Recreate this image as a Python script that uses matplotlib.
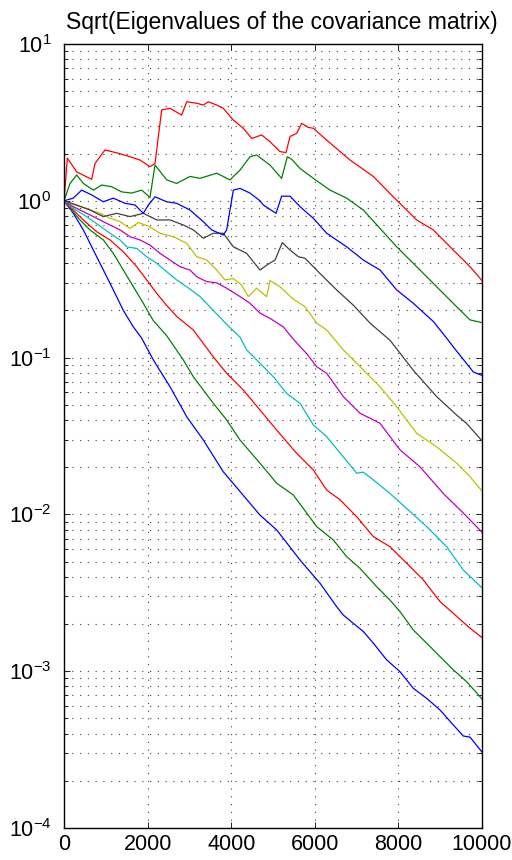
import matplotlib
matplotlib.use("Agg")
import matplotlib.pyplot as plt
from matplotlib.ticker import LogLocator, FixedLocator

plt.rcParams['font.family'] = ['Liberation Sans', 'DejaVu Sans']
plt.rcParams['mathtext.fontset'] = 'custom'
plt.rcParams['mathtext.rm'] = 'Liberation Sans'
plt.rcParams['mathtext.it'] = 'Liberation Sans'

title = "Sqrt(Eigenvalues of the covariance matrix)"
x_ticks = [0, 2000, 4000, 6000, 8000, 10000]
colors = ['#0000ff', '#008000', '#ff0000', '#00bfbf', '#bf00bf',
          '#bfbf00', '#404040', '#0000ff', '#008000', '#ff0000']

x1 = [0, 223, 462, 702, 941, 1180, 1419, 1659, 1858, 2137, 2536, 2935, 3333, 3811, 4211, 4689, 5088, 5646, 6124, 6523, 6682, 6921, 7161, 7400, 7720, 8038, 8357, 8676, 8995, 9314, 9553, 9713, 10000]
y1 = [1.0, 0.832, 0.652, 0.485, 0.362, 0.27, 0.2, 0.157, 0.133, 0.0966, 0.0652, 0.042, 0.0298, 0.0187, 0.014, 0.0099, 0.00796, 0.00512, 0.00364, 0.00258, 0.00228, 0.00202, 0.00179, 0.00151, 0.00118, 0.000993, 0.000778, 0.000671, 0.000566, 0.000454, 0.000386, 0.00038, 0.000305]

x2 = [0, 183, 383, 622, 941, 1180, 1419, 1659, 1898, 2137, 2456, 2855, 3094, 3572, 3892, 4211, 4689, 5088, 5486, 5806, 6045, 6443, 6762, 7081, 7480, 7799, 8038, 8357, 8676, 8995, 9314, 9633, 10000]
y2 = [1.0, 0.873, 0.755, 0.652, 0.563, 0.462, 0.362, 0.283, 0.222, 0.172, 0.138, 0.0966, 0.0755, 0.0511, 0.04, 0.0298, 0.0212, 0.0158, 0.0133, 0.0102, 0.00836, 0.00687, 0.00538, 0.00453, 0.00346, 0.00284, 0.0024, 0.00183, 0.00151, 0.00124, 0.00102, 0.000857, 0.000665]

x3 = [0, 223, 462, 782, 1100, 1419, 1739, 1978, 2217, 2456, 2696, 3094, 3572, 3892, 4290, 4689, 5088, 5567, 5965, 6284, 6603, 7002, 7400, 7799, 8198, 8596, 8995, 9314, 9713, 10000]
y3 = [1.0, 0.873, 0.755, 0.635, 0.563, 0.473, 0.38, 0.313, 0.257, 0.215, 0.183, 0.15, 0.101, 0.0794, 0.0621, 0.0463, 0.0345, 0.0245, 0.0192, 0.0143, 0.0124, 0.00967, 0.00722, 0.00622, 0.00488, 0.00382, 0.00278, 0.00234, 0.00188, 0.00164]

x4 = [0, 223, 542, 861, 1100, 1340, 1500, 1739, 1978, 2217, 2456, 2696, 2935, 3254, 3572, 3892, 4211, 4370, 4689, 5008, 5327, 5646, 5965, 6284, 6682, 7002, 7161, 7400, 7799, 8198, 8676, 9155, 9553, 10000]
y4 = [1.0, 0.895, 0.793, 0.69, 0.621, 0.563, 0.509, 0.497, 0.44, 0.4, 0.353, 0.313, 0.283, 0.245, 0.2, 0.163, 0.135, 0.112, 0.092, 0.0755, 0.0591, 0.0511, 0.0372, 0.0313, 0.0233, 0.0183, 0.0186, 0.0166, 0.0136, 0.0109, 0.00836, 0.00622, 0.00442, 0.0034]

x5 = [0, 223, 542, 861, 1100, 1340, 1579, 1818, 2057, 2297, 2536, 2775, 3014, 3174, 3414, 3653, 3892, 4211, 4450, 4689, 4928, 5247, 5486, 5806, 6045, 6284, 6682, 7081, 7560, 8038, 8517, 9074, 9553, 10000]
y5 = [1.0, 0.918, 0.832, 0.755, 0.701, 0.652, 0.59, 0.563, 0.522, 0.462, 0.419, 0.38, 0.362, 0.328, 0.305, 0.3, 0.277, 0.245, 0.222, 0.192, 0.178, 0.157, 0.131, 0.106, 0.0875, 0.0794, 0.0564, 0.0442, 0.0381, 0.0258, 0.0201, 0.0136, 0.0102, 0.0077]

x6 = [0, 263, 542, 861, 1100, 1340, 1579, 1778, 2018, 2297, 2615, 2935, 3174, 3414, 3653, 3852, 4051, 4250, 4410, 4609, 4729, 4849, 4928, 5167, 5486, 5766, 6045, 6284, 6682, 7081, 7560, 7959, 8437, 8915, 9394, 9713, 10000]
y6 = [1.0, 0.94, 0.895, 0.832, 0.774, 0.736, 0.667, 0.727, 0.69, 0.621, 0.59, 0.536, 0.44, 0.419, 0.362, 0.313, 0.319, 0.29, 0.245, 0.277, 0.26, 0.245, 0.31, 0.283, 0.236, 0.211, 0.166, 0.15, 0.112, 0.0875, 0.0652, 0.0486, 0.0329, 0.027, 0.0212, 0.0174, 0.0141]

x7 = [0, 303, 622, 941, 1260, 1579, 1898, 2217, 2536, 2855, 3094, 3333, 3572, 3811, 4051, 4370, 4689, 4888, 5048, 5223, 5407, 5606, 5766, 6124, 6523, 6921, 7321, 7799, 8357, 8915, 9394, 9633, 10000]
y7 = [1.0, 0.94, 0.873, 0.793, 0.832, 0.793, 0.832, 0.755, 0.755, 0.701, 0.652, 0.577, 0.621, 0.621, 0.509, 0.462, 0.362, 0.395, 0.419, 0.541, 0.485, 0.44, 0.43, 0.344, 0.27, 0.216, 0.166, 0.129, 0.083, 0.0564, 0.043, 0.038, 0.0295]

x8 = [0, 223, 423, 662, 941, 1180, 1459, 1699, 1898, 2018, 2177, 2456, 2696, 3014, 3333, 3533, 3811, 3891, 4051, 4211, 4450, 4689, 4769, 5072, 5207, 5407, 5646, 5965, 6284, 6762, 7161, 7560, 7959, 8357, 8835, 9155, 9314, 9792, 10000]
y8 = [1.0, 1.04, 1.17, 1.09, 0.986, 1.04, 0.964, 0.94, 0.832, 0.94, 1.06, 0.986, 0.964, 0.873, 0.736, 0.652, 0.605, 0.652, 1.17, 1.2, 1.12, 1.0, 0.94, 0.832, 1.07, 1.07, 0.918, 0.774, 0.621, 0.509, 0.419, 0.362, 0.27, 0.222, 0.17, 0.133, 0.117, 0.081, 0.077]

x9 = [0, 144, 303, 463, 702, 901, 1141, 1380, 1619, 1858, 2057, 2177, 2456, 2696, 3014, 3254, 3653, 3971, 4211, 4450, 4609, 4928, 5207, 5343, 5447, 5646, 5965, 6364, 6762, 7161, 7560, 7959, 8437, 8916, 9394, 9713, 10000]
y9 = [1.0, 1.29, 1.46, 1.29, 1.17, 1.26, 1.23, 1.14, 1.12, 1.17, 1.05, 1.69, 1.36, 1.29, 1.43, 1.39, 1.5, 1.36, 1.57, 1.91, 1.96, 1.69, 1.39, 1.91, 1.84, 1.61, 1.39, 1.17, 1.04, 0.873, 0.667, 0.509, 0.38, 0.283, 0.211, 0.174, 0.167]

x10 = [0, 80, 303, 662, 742, 981, 1300, 1579, 1818, 2057, 2177, 2337, 2536, 2815, 2935, 3174, 3333, 3453, 3653, 3811, 4051, 4290, 4490, 4730, 4928, 5167, 5311, 5407, 5566, 5686, 5845, 5965, 6284, 6842, 7400, 7878, 8437, 8835, 9314, 9713, 10000]
y10 = [1.0, 1.87, 1.53, 1.37, 1.73, 2.11, 2.01, 1.91, 1.82, 1.65, 1.73, 3.8, 3.89, 3.52, 4.28, 4.19, 4.08, 4.28, 4.08, 3.89, 3.27, 2.9, 2.5, 2.63, 2.38, 2.06, 2.03, 2.57, 2.69, 3.12, 2.94, 2.9, 2.44, 1.82, 1.43, 1.06, 0.755, 0.652, 0.485, 0.38, 0.31]

series_x = [x1, x2, x3, x4, x5, x6, x7, x8, x9, x10]
series_y = [y1, y2, y3, y4, y5, y6, y7, y8, y9, y10]

fig = plt.figure(figsize=(5.12, 8.6), dpi=100)
ax = fig.add_axes([64/512, 32/860, 418/512, 784/860])

for xs, ys, c in zip(series_x, series_y, colors):
    ax.plot(xs, ys, color=c, lw=0.9)

ax.set_yscale('log')
ax.set_xlim(0, 10000)
ax.set_ylim(1e-4, 1e1)
ax.xaxis.set_major_locator(FixedLocator(x_ticks))
ax.set_xticklabels([str(t) for t in x_ticks])
ax.yaxis.set_major_locator(LogLocator(base=10, numticks=10))
ax.yaxis.set_minor_locator(LogLocator(base=10, subs=range(2, 10), numticks=50))

grid_kw = dict(color='0.25', lw=0.8, linestyle=(0, (1, 6)))
ax.grid(True, which='major', axis='both', **grid_kw)
ax.grid(True, which='minor', axis='y', **grid_kw)
ax.set_axisbelow(True)

ax.tick_params(which='both', direction='in', top=True, right=True,
               labelsize=15.5, width=0.6)
ax.tick_params(which='major', length=4)
ax.tick_params(which='minor', length=3)
ax.tick_params(axis='y', pad=9)
ax.tick_params(axis='x', pad=4)
for s in ax.spines.values():
    s.set_linewidth(1.0)

ax.set_title(title, fontsize=16.5, pad=11, x=0.52)

fig.savefig("out.png", dpi=100)
